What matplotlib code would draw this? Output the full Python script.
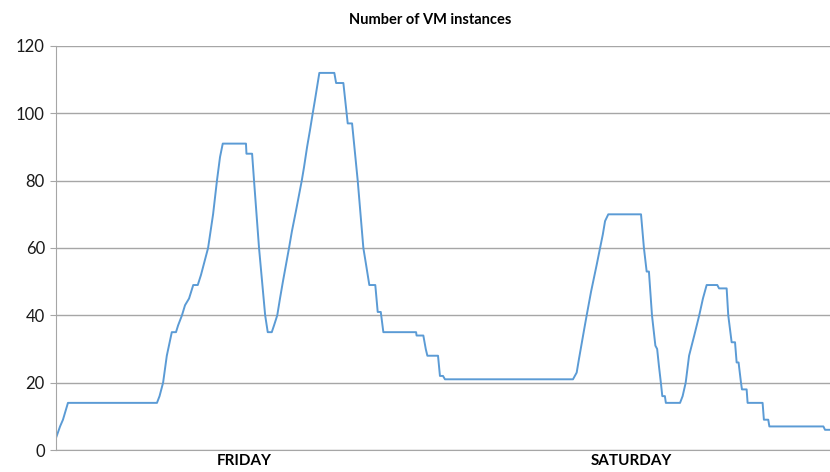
import matplotlib
matplotlib.use("Agg")
import matplotlib.pyplot as plt

plt.rcParams['font.family'] = ['Lato', 'DejaVu Sans']

# time in hours from Friday 00:00, number of VM instances
hours = [0.03, 0.25, 0.43, 0.74, 6.26, 6.42, 6.64, 6.87, 7.18, 7.44, 7.57, 7.81,
         8.0, 8.25, 8.51, 8.79, 8.99, 9.43, 9.74, 9.98, 10.17, 10.34, 11.78, 11.81,
         12.16, 12.28, 12.59, 12.78, 12.97, 13.13, 13.38, 13.52, 13.72, 13.89,
         14.07, 14.26, 14.45, 14.63, 14.88, 15.24, 15.38, 15.57, 15.75, 15.92,
         16.06, 16.33, 17.26, 17.37, 17.82, 18.09, 18.36, 18.71, 19.06, 19.23,
         19.43, 19.80, 19.95, 20.14, 20.30, 22.33, 22.36, 22.78, 22.93, 23.03,
         23.69, 23.81, 24.0, 24.12, 32.06, 32.29, 32.43, 32.76, 32.91, 33.18,
         33.53, 33.74, 33.91, 34.05, 34.25, 36.28, 36.46, 36.63, 36.77, 36.96,
         37.17, 37.28, 37.39, 37.51, 37.60, 37.76, 37.82, 38.70, 38.86, 39.05,
         39.26, 39.58, 39.89, 40.12, 40.35, 41.01, 41.12, 41.59, 41.69, 41.90,
         42.11, 42.21, 42.33, 42.48, 42.54, 42.83, 42.89, 43.82, 43.90, 44.17,
         44.24, 47.59, 47.69, 48.0]
vms = [4, 7, 9, 14, 14, 16, 20, 28, 35, 35, 37, 40,
       43, 45, 49, 49, 52, 60, 70, 80, 87, 91, 91, 88,
       88, 80, 60, 50, 40, 35, 35, 37, 40, 45,
       50, 55, 60, 65, 71, 80, 84, 90, 95, 100,
       104, 112, 112, 109, 109, 97, 97, 80, 60, 55,
       49, 49, 41, 41, 35, 35, 34, 34, 30, 28,
       28, 22, 22, 21, 21, 23, 27, 36, 40, 47,
       55, 60, 64, 68, 70, 70, 60, 53, 53, 40,
       31, 30, 25, 20, 16, 16, 14, 14, 16, 20,
       28, 34, 40, 45, 49, 49, 48, 48, 40, 32,
       32, 26, 26, 20, 18, 18, 14, 14, 9, 9,
       7, 7, 6, 6]

days = ['FRIDAY', 'SATURDAY']
day_centers = [11.7, 35.7]

fig = plt.figure(figsize=(8.3, 4.72), dpi=100)
ax = fig.add_axes([0.0675, 0.0466, 0.9325, 0.856])

ax.plot(hours, vms, color='#5b9bd5', lw=1.4)

ax.set_xlim(0, 48)
ax.set_ylim(0, 120)
ax.set_yticks(range(0, 121, 20))
ax.tick_params(axis='y', labelsize=12, length=4, color='#a6a6a6', pad=4,
               labelcolor='#1a1a1a')
ax.set_xticks(day_centers)
ax.set_xticklabels(days, fontsize=11, fontweight='bold')
ax.tick_params(axis='x', length=0, pad=3)

ax.grid(axis='y', color='#a6a6a6', lw=1)
ax.set_axisbelow(True)
for s in ['top', 'right']:
    ax.spines[s].set_visible(False)
ax.spines['left'].set_color('#a6a6a6')
ax.spines['bottom'].set_color('#a6a6a6')

fig.text(0.518, 0.957, 'Number of VM instances', ha='center', va='center',
         fontsize=10.5, fontweight='bold')

fig.savefig('out.png', dpi=100)
